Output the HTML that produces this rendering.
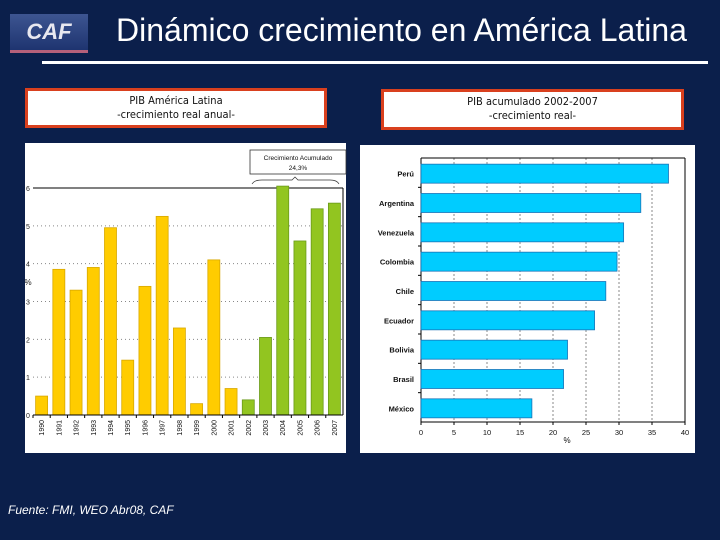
<!DOCTYPE html>
<html><head><meta charset="utf-8"><style>
body{margin:0;width:720px;height:540px;background:#0b1f4b;position:relative;overflow:hidden;font-family:"Liberation Sans",sans-serif}
.abs{position:absolute}
.sub{position:absolute;background:#fff;border:3px solid #d9401e;box-sizing:border-box;text-align:center;font:11px/14px "DejaVu Sans Condensed","Liberation Sans",sans-serif;color:#111;padding-top:3px}
</style></head><body>
<div class="abs" style="left:10px;top:14px;width:78px;height:36px;background:linear-gradient(#3d5591,#1e3470);border-bottom:3px solid #b5607a;color:#e8e8f0;font:italic bold 22px/36px 'Liberation Sans',sans-serif;text-align:center">CAF</div>
<div class="abs" style="left:116px;top:12px;color:#fff;font-size:32px;white-space:nowrap">Dinámico crecimiento en América Latina</div>
<div class="abs" style="left:42px;top:61px;width:666px;height:3px;background:#fff"></div>
<div class="sub" style="left:25px;top:88px;width:302px;height:40px">PIB América Latina<br>-crecimiento real anual-</div>
<div class="sub" style="left:381px;top:89px;width:303px;height:41px">PIB acumulado 2002-2007<br>-crecimiento real-</div>
<div class="abs" style="left:8px;top:503px;color:#fff;font-style:italic;font-size:12px">Fuente: FMI, WEO Abr08, CAF</div>

<svg class="abs" style="left:0;top:0" width="720" height="540" id="svg">
<rect x="25" y="143" width="321" height="310" fill="#fff"/>
<rect x="360" y="145" width="335" height="308" fill="#fff"/>
<g id="left"></g><g id="right"></g>
</svg>
<script>
const years=["1990","1991","1992","1993","1994","1995","1996","1997","1998","1999","2000","2001","2002","2003","2004","2005","2006","2007"];
const growth=[0.5,3.85,3.3,3.9,4.95,1.45,3.4,5.25,2.3,0.3,4.1,0.7,0.4,2.05,6.05,4.6,5.45,5.6];
const yTicks=[0,1,2,3,4,5,6];
const countries=["Perú","Argentina","Venezuela","Colombia","Chile","Ecuador","Bolivia","Brasil","México"];
const cumGrowth=[37.5,33.3,30.7,29.7,28,26.3,22.2,21.6,16.8];
const xTicks=[0,5,10,15,20,25,30,35,40];
const NS="http://www.w3.org/2000/svg";
function mk(p,t,a,txt){const e=document.createElementNS(NS,t);for(const k in a)e.setAttribute(k,a[k]);if(txt!==undefined)e.textContent=txt;p.appendChild(e);return e;}
const L=document.getElementById('left');
const lx0=33,lx1=343,ly0=415,ly6=188;
const ly=v=>ly0+(ly6-ly0)*v/6;
const step=(lx1-lx0)/years.length;
yTicks.forEach(t=>{
 if(t>0&&t<6){const g=mk(L,'line',{x1:lx0,x2:lx1,y1:ly(t),y2:ly(t),stroke:'#888','stroke-dasharray':'1 3'});}
 const tl=mk(L,'text',{x:28,y:ly(t)+3,'font-size':7,'font-family':'Liberation Sans',fill:'#222','text-anchor':'middle'},t);
 
});
mk(L,'line',{x1:lx0,x2:lx1,y1:ly(6),y2:ly(6),stroke:'#000','stroke-width':1});
const pct=mk(L,'text',{x:28,y:285,'font-size':8,fill:'#222','text-anchor':'middle'},'%');

years.forEach((yr,i)=>{
 const cx=lx0+step*(i+0.5),v=growth[i],green=i>=12;
 const b=mk(L,'rect',{x:cx-6,y:ly(v),width:12,height:ly0-ly(v),fill:green?'#92c520':'#ffcc00',stroke:green?'#6a9a1a':'#d8a800','stroke-width':0.8});
 
 mk(L,'line',{x1:lx0+step*i,x2:lx0+step*i,y1:ly0,y2:ly0+3,stroke:'#000'});
 const t=mk(L,'text',{x:0,y:0,'font-size':7,'font-family':'Liberation Sans',fill:'#111','text-anchor':'end',transform:`translate(${cx+2.5},${ly0+5}) rotate(-90)`},yr);
 
});
mk(L,'line',{x1:lx0,x2:lx1,y1:ly0,y2:ly0,stroke:'#000'});
mk(L,'line',{x1:lx1,x2:lx1,y1:ly6,y2:ly0,stroke:'#000'});
const cb=mk(L,'rect',{x:250,y:150,width:96,height:24,fill:'#fff',stroke:'#333','stroke-width':0.8});

mk(L,'text',{x:298,y:160,'font-size':6.5,'text-anchor':'middle',fill:'#111'},'Crecimiento Acumulado');
mk(L,'text',{x:298,y:170,'font-size':6.5,'text-anchor':'middle',fill:'#111'},'24,3%');
mk(L,'path',{d:'M252,184 Q254,180 262,180 L292,180 L295,177 L298,180 L330,180 Q337,180 339,184',fill:'none',stroke:'#333','stroke-width':0.7});
const R=document.getElementById('right');
const rx0=421,rx1=685,ry0=158,ry1=422;
const rx=v=>rx0+(rx1-rx0)*v/40;
const rstep=(ry1-ry0)/countries.length;
xTicks.forEach(t=>{
 if(t>0){const g=mk(R,'line',{x1:rx(t),x2:rx(t),y1:ry0,y2:ry1,stroke:'#888','stroke-dasharray':'2 2'});}
 mk(R,'line',{x1:rx(t),x2:rx(t),y1:ry1,y2:ry1+3,stroke:'#000'});
 const tl=mk(R,'text',{x:rx(t),y:ry1+13,'font-size':7.5,'text-anchor':'middle',fill:'#111'},t);
 
});
mk(R,'line',{x1:rx0,x2:rx1,y1:ry0,y2:ry0,stroke:'#000'});
mk(R,'line',{x1:rx1,x2:rx1,y1:ry0,y2:ry1,stroke:'#000'});
mk(R,'line',{x1:rx0,x2:rx1,y1:ry1,y2:ry1,stroke:'#000'});
mk(R,'line',{x1:rx0,x2:rx0,y1:ry0,y2:ry1,stroke:'#000'});
const xt=mk(R,'text',{x:567,y:443,'font-size':8,'text-anchor':'middle',fill:'#111'},'%');

countries.forEach((c,i)=>{
 const cy=ry0+rstep*(i+0.5)+1;
 const b=mk(R,'rect',{x:rx0,y:cy-9.5,width:rx(cumGrowth[i])-rx0,height:19,fill:'#00ccff',stroke:'#1a74b8','stroke-width':0.8});
 
 if(i>0)mk(R,'line',{x1:rx0-3,x2:rx0,y1:ry0+rstep*i,y2:ry0+rstep*i,stroke:'#000'});
 const t=mk(R,'text',{x:414,y:cy+3,'font-size':7.5,'font-weight':'bold','text-anchor':'end',fill:'#111'},c);
 
});
</script>
</body></html>
